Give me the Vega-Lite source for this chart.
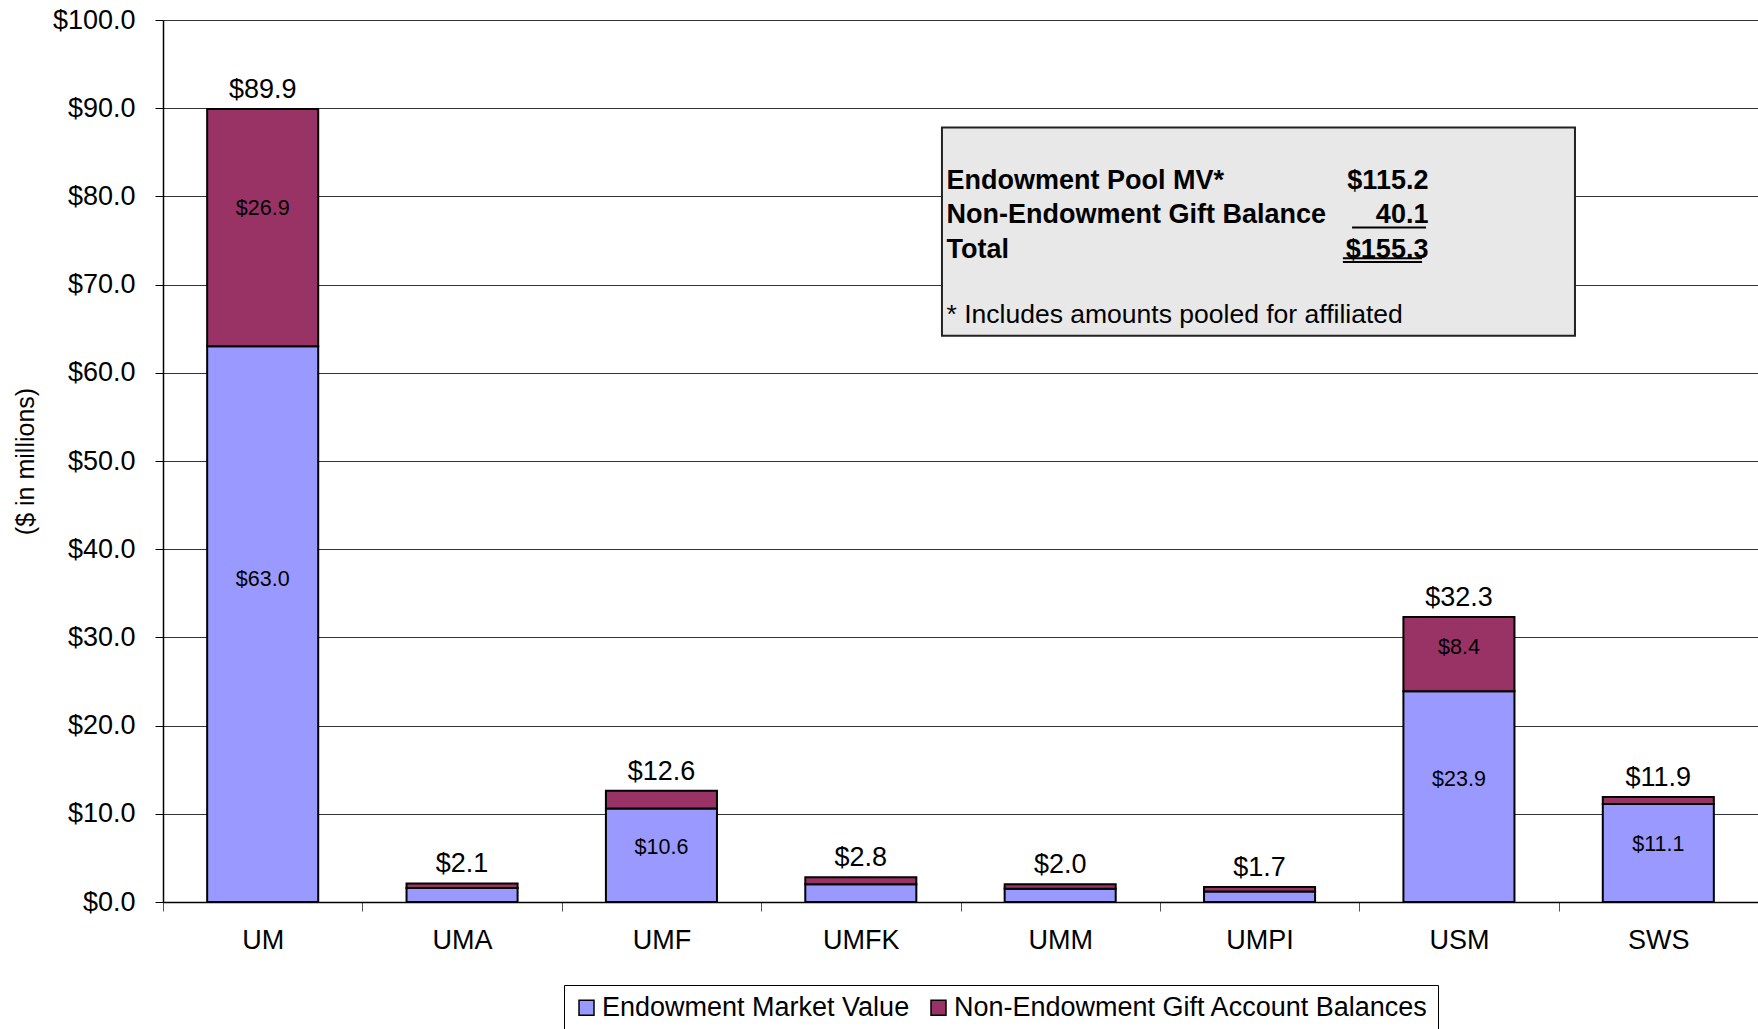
{
  "$schema": "https://vega.github.io/schema/vega-lite/v6.json",
  "width": 1595,
  "height": 882,
  "autosize": "none",
  "padding": {"left": 163, "top": 20, "right": 0, "bottom": 127},
  "background": "white",
  "config": {"font": "Liberation Sans", "view": {"stroke": null}},
  "data": {
    "values": [
      {"school": "UM", "series": "Endowment Market Value", "value": 63.0},
      {"school": "UM", "series": "Non-Endowment Gift Account Balances", "value": 26.9},
      {"school": "UMA", "series": "Endowment Market Value", "value": 1.6},
      {"school": "UMA", "series": "Non-Endowment Gift Account Balances", "value": 0.5},
      {"school": "UMF", "series": "Endowment Market Value", "value": 10.6},
      {"school": "UMF", "series": "Non-Endowment Gift Account Balances", "value": 2.0},
      {"school": "UMFK", "series": "Endowment Market Value", "value": 2.0},
      {"school": "UMFK", "series": "Non-Endowment Gift Account Balances", "value": 0.8},
      {"school": "UMM", "series": "Endowment Market Value", "value": 1.5},
      {"school": "UMM", "series": "Non-Endowment Gift Account Balances", "value": 0.5},
      {"school": "UMPI", "series": "Endowment Market Value", "value": 1.2},
      {"school": "UMPI", "series": "Non-Endowment Gift Account Balances", "value": 0.5},
      {"school": "USM", "series": "Endowment Market Value", "value": 23.9},
      {"school": "USM", "series": "Non-Endowment Gift Account Balances", "value": 8.4},
      {"school": "SWS", "series": "Endowment Market Value", "value": 11.1},
      {"school": "SWS", "series": "Non-Endowment Gift Account Balances", "value": 0.8}
    ]
  },
  "layer": [
    {
      "layer": [
        {
          "mark": {"type": "bar", "width": {"band": 0.557}, "stroke": "black", "strokeWidth": 2},
          "encoding": {
            "x": {
              "field": "school", "type": "nominal", "sort": null,
              "scale": {"paddingInner": 0, "paddingOuter": 0},
              "axis": {
                "title": null, "labelAngle": 0, "labelFontSize": 27, "labelColor": "black",
                "labelFont": "Liberation Sans", "labelPadding": 16, "tickBand": "extent",
                "tickSize": 9, "tickColor": "#555", "domainColor": "black", "domainWidth": 1.5, "grid": false
              }
            },
            "y": {
              "field": "value", "type": "quantitative", "stack": "zero",
              "scale": {"domain": [0, 100], "nice": false},
              "axis": {
                "values": [0, 10, 20, 30, 40, 50, 60, 70, 80, 90, 100],
                "format": "$.1f", "title": "($ in millions)",
                "labelFontSize": 27, "labelColor": "black", "labelFont": "Liberation Sans", "labelPadding": 20,
                "tickSize": 8, "tickColor": "black", "domainColor": "black", "domainWidth": 1.5,
                "gridColor": "#333", "gridWidth": 1,
                "titleFontSize": 25, "titleFontWeight": "normal", "titleColor": "black",
                "titleFont": "Liberation Sans", "titlePadding": 14
              }
            },
            "color": {
              "field": "series", "type": "nominal",
              "scale": {
                "domain": ["Endowment Market Value", "Non-Endowment Gift Account Balances"],
                "range": ["#9999FF", "#993366"]
              },
              "legend": {
                "title": null, "orient": "none", "legendX": 401, "legendY": 965,
                "direction": "horizontal", "symbolType": "square", "symbolSize": 225,
                "symbolStrokeColor": "black", "symbolStrokeWidth": 1.5, "symbolOpacity": 1,
                "labelFontSize": 27, "labelColor": "black", "labelFont": "Liberation Sans",
                "labelLimit": 700, "strokeColor": "black", "fillColor": "white",
                "padding": 9, "columnPadding": 15, "labelOffset": 2
              }
            },
            "order": {"field": "series", "type": "nominal", "sort": "ascending"}
          }
        },
        {
          "mark": {"type": "text", "fontSize": 21.5, "color": "black", "baseline": "middle"},
          "encoding": {
            "x": {"field": "school", "type": "nominal", "sort": null},
            "y": {"field": "value", "type": "quantitative", "stack": "zero", "bandPosition": 0.58},
            "order": {"field": "series", "type": "nominal", "sort": "ascending"},
            "text": {
              "condition": {"test": "datum.value > 3", "field": "value", "type": "quantitative", "format": "$.1f"},
              "value": ""
            }
          }
        },
        {
          "mark": {"type": "text", "fontSize": 27, "color": "black", "baseline": "alphabetic", "dy": -11},
          "encoding": {
            "x": {"field": "school", "type": "nominal", "sort": null},
            "y": {"aggregate": "sum", "field": "value", "type": "quantitative"},
            "text": {"aggregate": "sum", "field": "value", "type": "quantitative", "format": "$.1f"}
          }
        }
      ]
    },
    {
      "data": {"values": [{}]},
      "layer": [
        {
          "mark": {"type": "rect", "fill": "#e8e8e8", "stroke": "#222", "strokeWidth": 2},
          "encoding": {
            "x": {"datum": 3.907, "type": "quantitative", "scale": {"domain": [0, 8], "nice": false, "zero": false}, "axis": null},
            "x2": {"datum": 7.082},
            "y": {"datum": 87.8, "type": "quantitative", "scale": {"domain": [0, 100], "nice": false, "zero": false}, "axis": null},
            "y2": {"datum": 64.2}
          }
        },
        {
          "mark": {
            "type": "text", "text": ["Endowment Pool MV*", "Non-Endowment Gift Balance", "Total"],
            "align": "left", "baseline": "alphabetic", "fontSize": 27, "fontWeight": "bold",
            "lineHeight": 34.3, "color": "black"
          },
          "encoding": {
            "x": {"datum": 3.93, "type": "quantitative", "axis": null},
            "y": {"datum": 80.83, "type": "quantitative", "axis": null}
          }
        },
        {
          "mark": {
            "type": "text", "text": ["$115.2", "40.1", "$155.3"],
            "align": "right", "baseline": "alphabetic", "fontSize": 27, "fontWeight": "bold",
            "lineHeight": 34.3, "color": "black"
          },
          "encoding": {
            "x": {"datum": 6.347, "type": "quantitative", "axis": null},
            "y": {"datum": 80.83, "type": "quantitative", "axis": null}
          }
        },
        {
          "mark": {
            "type": "text", "text": "* Includes amounts pooled for affiliated",
            "align": "left", "baseline": "alphabetic", "fontSize": 26.5, "color": "black"
          },
          "encoding": {
            "x": {"datum": 3.93, "type": "quantitative", "axis": null},
            "y": {"datum": 65.6, "type": "quantitative", "axis": null}
          }
        },
        {
          "mark": {"type": "rule", "color": "black", "strokeWidth": 2},
          "encoding": {
            "x": {"datum": 5.964, "type": "quantitative", "axis": null},
            "x2": {"datum": 6.335},
            "y": {"datum": 76.46, "type": "quantitative", "axis": null}
          }
        },
        {
          "mark": {"type": "rule", "color": "black", "strokeWidth": 2},
          "encoding": {
            "x": {"datum": 5.918, "type": "quantitative", "axis": null},
            "x2": {"datum": 6.315},
            "y": {"datum": 73.0, "type": "quantitative", "axis": null}
          }
        },
        {
          "mark": {"type": "rule", "color": "black", "strokeWidth": 2},
          "encoding": {
            "x": {"datum": 5.918, "type": "quantitative", "axis": null},
            "x2": {"datum": 6.315},
            "y": {"datum": 72.56, "type": "quantitative", "axis": null}
          }
        }
      ]
    }
  ],
  "resolve": {"scale": {"x": "independent", "y": "independent"}}
}
